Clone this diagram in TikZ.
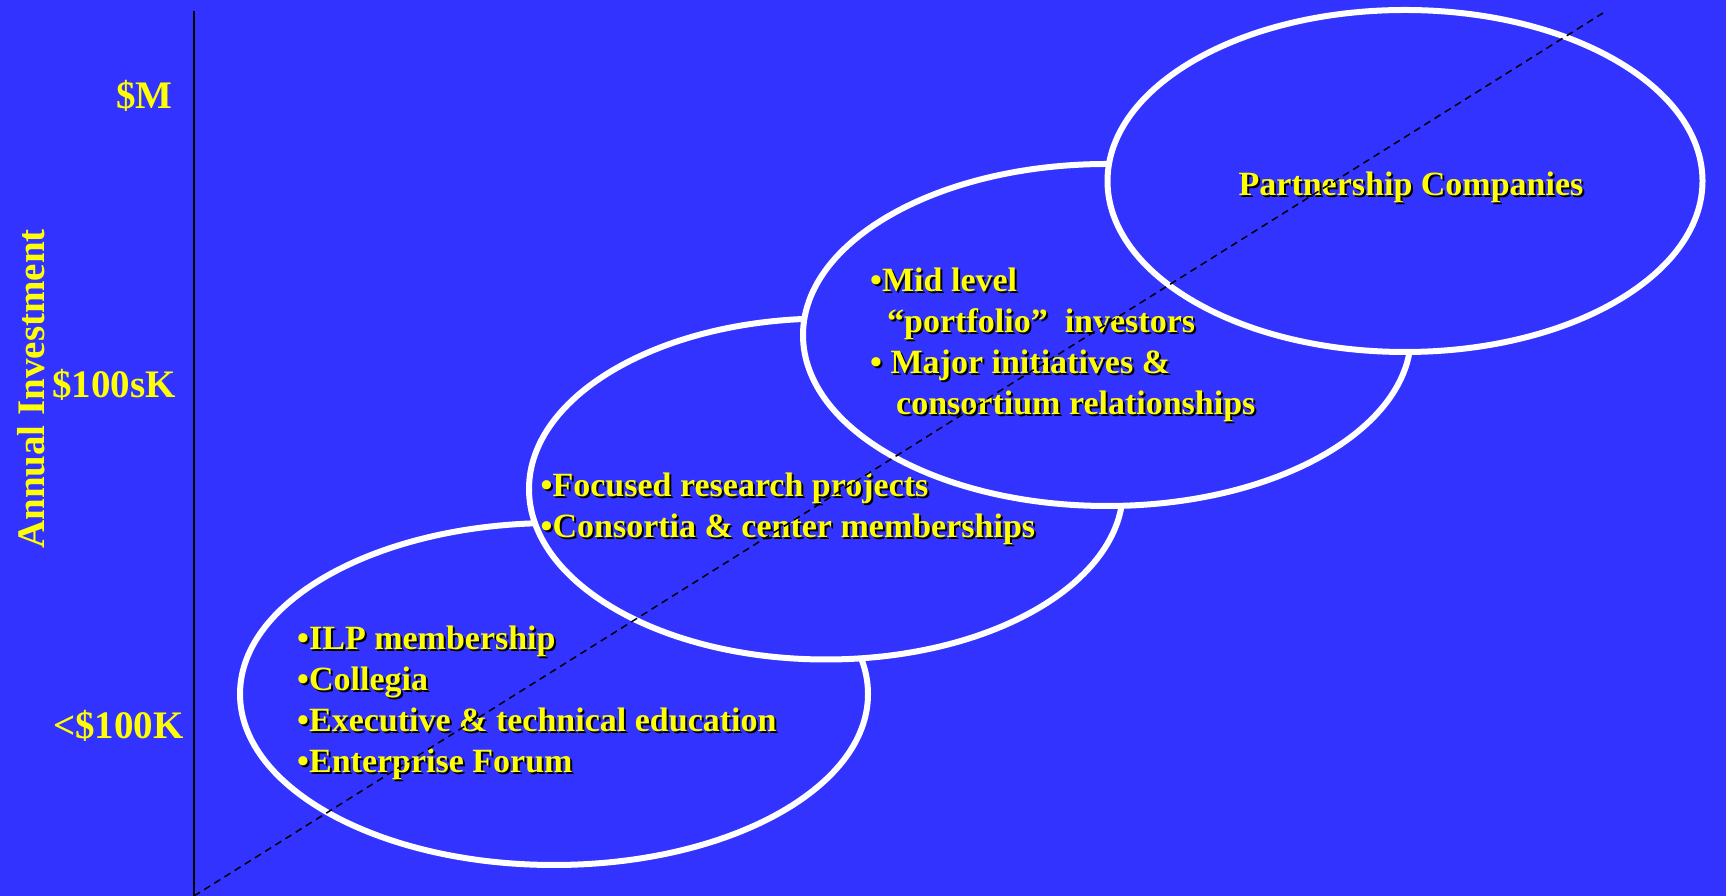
\documentclass[tikz,border=0pt]{standalone}
\usepackage{fontspec}
\setmainfont{Liberation Serif}
\usetikzlibrary{shapes.geometric}
\definecolor{slideblue}{RGB}{51,51,255}
\definecolor{slideyellow}{RGB}{255,255,0}
% yellow text with a black drop shadow
\newcommand{\shadowtext}[4][]{%
  \node[list text,#1,text=black,xshift=2pt,yshift=-2pt] (#2 shadow) at #3 {#4};
  \node[list text,#1] (#2) at #3 {#4};}

\begin{document}
\begin{tikzpicture}[x=1pt,y=1pt,
  tier/.style={ellipse, draw=white, line width=6pt, fill=slideblue, inner sep=0pt},
  list text/.style={text=slideyellow, inner sep=0pt, align=left,
    font=\fontsize{34}{41}\selectfont\bfseries},
  axis text/.style={text=slideyellow, inner sep=0pt,
    font=\fontsize{39}{44}\selectfont\bfseries}]
\fill[slideblue] (0,0) rectangle (1726,896);
\useasboundingbox (0,0) rectangle (1726,896);

\coordinate (origin) at (194,0);
\coordinate (axistop) at (194,885);
\coordinate (trendend) at (1603,883);
\draw[line width=2pt] (origin) -- (axistop);

\node[axis text, anchor=east] (mlabel) at (173,800) {\$M};
\node[axis text, anchor=east] (hundredslabel) at (176,511) {\$100sK};
\node[axis text, anchor=east] (lowlabel) at (184,170) {<\$100K};
\node[axis text, rotate=90] (axistitle) at (31,507) {Annual Investment};

% tiers, each one laid over the one below
\node[tier, minimum width=628pt, minimum height=342pt] (lowtier) at (554,202) {};
\node[tier, minimum width=594pt, minimum height=341pt] (midtier) at (826,407) {};
\node[tier, minimum width=608pt, minimum height=342pt] (uptier) at (1107,561) {};
\node[tier, minimum width=595pt, minimum height=342pt] (toptier) at (1405,715) {};

\shadowtext[anchor=west]{lowlist}{(297,193)}{•ILP membership\\•Collegia\\•Executive \& technical education\\•Enterprise Forum}
\shadowtext[anchor=west]{midlist}{(540.5,387.5)}{•Focused research projects\\•Consortia \& center memberships}
\shadowtext[anchor=west]{uplist}{(870,551.5)}{•Mid level\\\hspace*{17pt}“portfolio”\ \ investors\\• Major initiatives \&\\\hspace*{26pt}consortium relationships}
\shadowtext{toplist}{(1411,709)}{Partnership Companies}

\draw[line width=1.5pt, dash pattern=on 7pt off 5pt] (origin) -- (trendend);
\end{tikzpicture}
\end{document}
